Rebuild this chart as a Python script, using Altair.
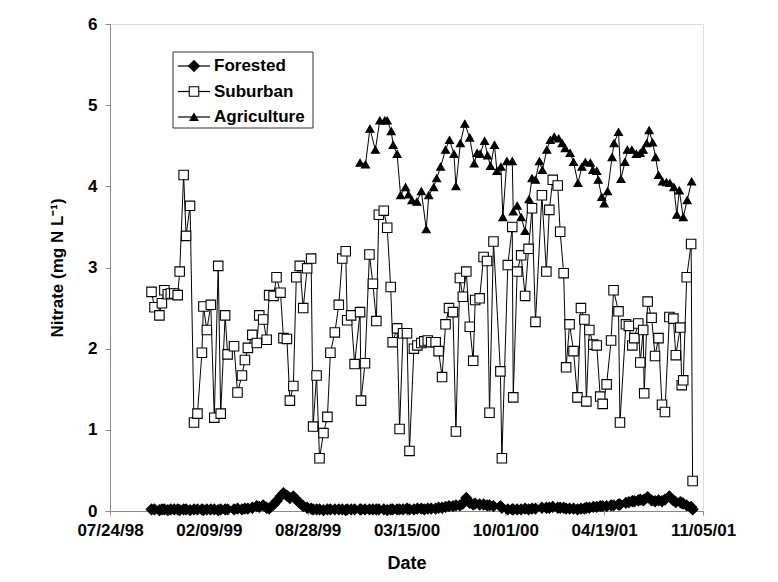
import altair as alt
import pandas as pd

BASE_DATE = "1998-07-24"
tick_labels = ["07/24/98", "02/09/99", "08/28/99", "03/15/00", "10/01/00", "04/19/01", "11/05/01"]
series_names = ["Forested", "Suburban", "Agriculture"]

# days since 1998-07-24 (weekly sampling, shared by Forested and Suburban)
suburban_day = [84, 90, 100, 105, 110, 117, 123, 130, 137, 141,
                149, 154, 162, 170, 177, 186, 189, 196, 204, 211,
                219, 224, 233, 238, 251, 258, 267, 273, 279, 288,
                297, 302, 310, 317, 322, 331, 337, 345, 351, 358,
                364, 371, 377, 384, 391, 399, 407, 411, 418, 424,
                432, 440, 446, 455, 463, 470, 477, 480, 488, 495,
                506, 508, 516, 525, 532, 539, 544, 554, 561, 568,
                572, 581, 586, 593, 601, 606, 615, 622, 630, 636,
                643, 650, 659, 665, 672, 679, 686, 694, 700, 708,
                714, 721, 728, 735, 739, 748, 756, 763, 768, 776,
                790, 793, 805, 814, 816, 824, 832, 840, 847, 854,
                861, 874, 883, 889, 896, 906, 911, 918, 923, 930,
                938, 946, 953, 960, 964, 970, 978, 985, 992, 997,
                1005, 1014, 1019, 1029, 1032, 1044, 1050, 1057, 1061, 1069,
                1073, 1079, 1081, 1088, 1096, 1103, 1110, 1117, 1123, 1132,
                1140, 1145, 1154, 1157, 1160, 1167, 1176, 1179]

suburban_val = [2.70, 2.51, 2.41, 2.56, 2.72, 2.67, 2.68, 2.68, 2.66, 2.95,
                4.14, 3.39, 3.76, 1.09, 1.20, 1.95, 2.52, 2.23, 2.54, 1.15,
                3.02, 1.20, 2.41, 1.93, 2.03, 1.46, 1.67, 1.86, 2.01, 2.17,
                2.07, 2.41, 2.36, 2.11, 2.66, 2.65, 2.88, 2.69, 2.13, 2.12,
                1.36, 1.54, 2.88, 3.02, 2.50, 2.99, 3.11, 1.04, 1.67, 0.65,
                0.96, 1.16, 1.95, 2.20, 2.54, 3.11, 3.20, 2.35, 2.41, 1.81,
                2.45, 1.36, 1.82, 3.16, 2.80, 2.34, 3.65, 3.70, 3.49, 2.76,
                2.08, 2.25, 1.01, 2.19, 2.19, 0.74, 2.00, 2.04, 2.07, 2.09,
                2.10, 2.08, 2.08, 1.97, 1.65, 2.30, 2.50, 2.45, 0.98, 2.87,
                2.64, 2.95, 2.27, 1.85, 2.60, 2.62, 3.13, 3.08, 1.21, 3.32,
                1.72, 0.65, 3.03, 3.50, 1.40, 2.95, 3.15, 2.65, 3.23, 3.73,
                2.33, 3.89, 2.95, 3.71, 4.08, 4.01, 3.44, 2.93, 1.77, 2.30,
                1.97, 1.40, 2.50, 2.36, 1.35, 2.23, 2.05, 2.04, 1.41, 1.32,
                1.56, 2.10, 2.72, 2.46, 1.09, 2.30, 2.28, 2.04, 2.13, 2.31,
                1.83, 2.23, 1.45, 2.58, 2.38, 1.91, 2.13, 1.31, 1.22, 2.39,
                2.37, 1.92, 2.26, 1.55, 1.61, 2.88, 3.29, 0.37]

forested_val = [0.02, 0.02, 0.01, 0.02, 0.02, 0.01, 0.02, 0.02, 0.02, 0.01,
                0.02, 0.02, 0.01, 0.02, 0.02, 0.02, 0.01, 0.02, 0.02, 0.02,
                0.01, 0.02, 0.02, 0.02, 0.02, 0.03, 0.02, 0.03, 0.03, 0.04,
                0.06, 0.05, 0.07, 0.04, 0.03, 0.08, 0.12, 0.18, 0.22, 0.19,
                0.16, 0.18, 0.14, 0.10, 0.06, 0.04, 0.03, 0.02, 0.02, 0.02,
                0.01, 0.02, 0.02, 0.02, 0.02, 0.02, 0.01, 0.02, 0.02, 0.02,
                0.02, 0.02, 0.02, 0.02, 0.02, 0.02, 0.02, 0.02, 0.01, 0.02,
                0.02, 0.02, 0.02, 0.02, 0.03, 0.02, 0.02, 0.03, 0.03, 0.02,
                0.03, 0.03, 0.03, 0.04, 0.04, 0.05, 0.06, 0.06, 0.07, 0.07,
                0.09, 0.16, 0.10, 0.08, 0.09, 0.08, 0.08, 0.07, 0.07, 0.06,
                0.06, 0.04, 0.02, 0.02, 0.02, 0.02, 0.02, 0.03, 0.02, 0.03,
                0.03, 0.04, 0.04, 0.04, 0.05, 0.04, 0.04, 0.04, 0.03, 0.03,
                0.03, 0.02, 0.03, 0.03, 0.04, 0.04, 0.05, 0.05, 0.06, 0.06,
                0.06, 0.07, 0.07, 0.08, 0.08, 0.10, 0.11, 0.12, 0.12, 0.13,
                0.14, 0.13, 0.14, 0.17, 0.13, 0.12, 0.13, 0.12, 0.14, 0.18,
                0.13, 0.11, 0.11, 0.10, 0.09, 0.07, 0.05, 0.02]

agri_day = [506, 517, 526, 537, 546, 556, 561, 569, 573, 581,
            588, 598, 604, 611, 621, 630, 640, 645, 655, 661,
            669, 679, 687, 696, 700, 709, 718, 728, 737, 743,
            749, 758, 764, 770, 778, 783, 791, 795, 803, 814,
            816, 824, 832, 840, 848, 854, 861, 869, 875, 884,
            891, 899, 908, 915, 921, 931, 938, 947, 955, 962,
            972, 977, 985, 988, 995, 1000, 1007, 1016, 1020, 1029,
            1034, 1042, 1047, 1056, 1065, 1073, 1079, 1086, 1091, 1098,
            1104, 1110, 1118, 1126, 1133, 1141, 1147, 1152, 1160, 1168,
            1177]

agri_val = [4.29, 4.27, 4.71, 4.45, 4.81, 4.81, 4.81, 4.68, 4.51, 4.40,
            3.89, 3.99, 3.90, 3.83, 3.81, 3.94, 3.47, 3.89, 3.99, 4.10,
            4.24, 4.45, 4.57, 4.40, 4.00, 4.53, 4.77, 4.60, 4.28, 4.41,
            4.40, 4.56, 4.38, 4.25, 4.51, 4.19, 4.24, 3.62, 4.31, 4.31,
            3.69, 3.76, 3.62, 3.45, 3.84, 4.10, 4.08, 4.31, 4.20, 4.45,
            4.57, 4.61, 4.59, 4.53, 4.47, 4.41, 4.30, 4.04, 4.24, 4.30,
            4.29, 4.20, 4.19, 4.08, 3.87, 3.79, 3.94, 4.36, 4.53, 4.67,
            4.09, 4.30, 4.45, 4.45, 4.40, 4.41, 4.45, 4.53, 4.69, 4.54,
            4.36, 4.14, 4.06, 4.05, 4.04, 3.99, 3.65, 3.95, 3.62, 3.83,
            4.06]

base = pd.Timestamp(BASE_DATE)


def to_dates(days):
    return [(base + pd.Timedelta(days=int(d))).strftime("%Y-%m-%d") for d in days]


frames = [
    pd.DataFrame({"date": to_dates(suburban_day), "value": forested_val, "series": "Forested"}),
    pd.DataFrame({"date": to_dates(suburban_day), "value": suburban_val, "series": "Suburban"}),
    pd.DataFrame({"date": to_dates(agri_day), "value": agri_val, "series": "Agriculture"}),
]
df = pd.concat(frames, ignore_index=True)
legend_df = pd.DataFrame({"series": series_names, "row": [0, 1, 2]})


def ms(label):
    t = pd.to_datetime(label, format="%m/%d/%y")
    return int(t.value // 10**6)


tick_ms = [ms(t) for t in tick_labels]

FONT = "Liberation Sans"

x_enc = alt.X(
    "date:T",
    scale=alt.Scale(type="utc", domain=[tick_ms[0], tick_ms[-1]]),
    axis=alt.Axis(
        values=tick_ms, labelExpr="utcFormat(datum.value, '%m/%d/%y')", title="Date",
        labelFontSize=17, labelFontWeight="bold", labelColor="black", labelFont=FONT,
        titleFontSize=18, titleFontWeight="bold", titleColor="black", titleFont=FONT,
        tickSize=4, labelPadding=7, titlePadding=16, grid=False,
        domainColor="#8a8a8a", tickColor="#8a8a8a", labelOverlap=False, labelFlush=False,
    ),
)
y_enc = alt.Y(
    "value:Q",
    scale=alt.Scale(domain=[0, 6], nice=False),
    axis=alt.Axis(
        values=[0, 1, 2, 3, 4, 5, 6], format="d", title="Nitrate (mg N L\u207b\u00b9)",
        labelFontSize=17, labelFontWeight="bold", labelColor="black", labelFont=FONT,
        titleFontSize=17, titleFontWeight="bold", titleColor="black", titleFont=FONT,
        titleX=-53, titleBaseline="middle",
        tickSize=5, labelPadding=8, grid=False,
        domainColor="#8a8a8a", tickColor="#8a8a8a",
    ),
)

shape_enc = alt.Shape("series:N", scale=alt.Scale(domain=series_names,
                                                 range=["diamond", "square", "triangle-up"]),
                      legend=None)
fill_enc = alt.Fill("series:N", scale=alt.Scale(domain=series_names,
                                               range=["black", "white", "black"]), legend=None)
size_enc = alt.Size("series:N", scale=alt.Scale(domain=series_names, range=[115, 64, 110]),
                    legend=None)

lines = alt.Chart(df).mark_line(color="black", strokeWidth=1).encode(
    x=x_enc, y=y_enc, detail="series:N"
)
points = alt.Chart(df).mark_point(filled=True, stroke="black", strokeWidth=1.1, opacity=1).encode(
    x=x_enc, y=y_enc, shape=shape_enc, fill=fill_enc, size=size_enc,
)
main = alt.layer(lines, points)

# hand-built legend box (line through marker, as in the reference)
ly = alt.Y("row:Q", scale=alt.Scale(domain=[0, 2], range=[42, 93]), axis=None)
box = alt.Chart(pd.DataFrame({"k": [0]})).mark_rect(
    fill="white", stroke="#333", strokeWidth=1
).encode(x=alt.value(63), x2=alt.value(203), y=alt.value(28), y2=alt.value(104))
leg_lines = alt.Chart(legend_df).mark_rule(color="black", strokeWidth=1.2).encode(
    x=alt.value(68), x2=alt.value(100), y=ly
)
leg_pts = alt.Chart(legend_df).mark_point(filled=True, stroke="black", strokeWidth=1.1,
                                           opacity=1).encode(
    x=alt.value(84), y=ly, shape=shape_enc, fill=fill_enc, size=size_enc
)
leg_text = alt.Chart(legend_df).mark_text(
    align="left", baseline="middle", fontSize=17, fontWeight="bold", font=FONT, color="black"
).encode(x=alt.value(104), y=ly, text="series:N")
legend_layer = alt.layer(box, leg_lines, leg_pts, leg_text)

chart = alt.layer(main, legend_layer).resolve_scale(y="independent").properties(
    width=593, height=487,
    padding={"left": 102, "top": 16, "right": 67, "bottom": 70},
    autosize=alt.AutoSizeParams(type="none"),
    background="white",
).configure_view(strokeWidth=0).configure(font=FONT)

chart.save("out.html", embed_options={"renderer": "svg", "actions": False})
